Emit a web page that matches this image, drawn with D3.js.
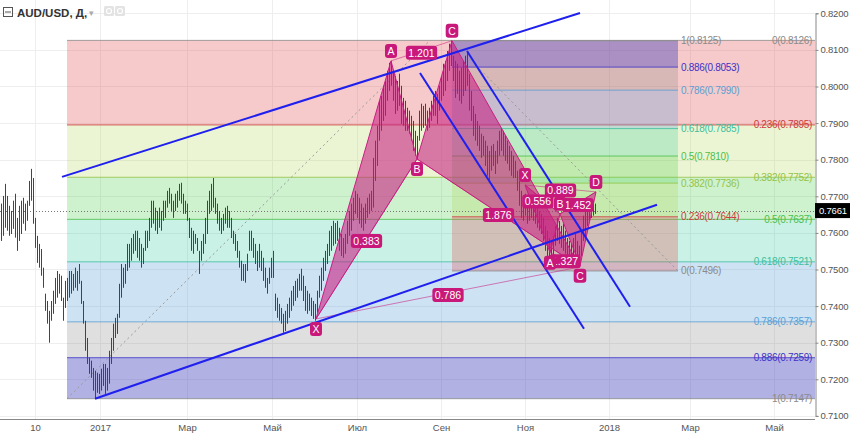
<!DOCTYPE html>
<html><head><meta charset="utf-8">
<script src="https://cdn.jsdelivr.net/npm/d3@7"></script>
<style>body{margin:0;background:#fff}svg{display:block;font-family:"Liberation Sans",Arial,sans-serif}</style>
</head><body><svg id="c" width="850" height="433"></svg>
<script>
// ---- DATA ----
const highs=[0.7680,0.7701,0.7734,0.7701,0.7674,0.7660,0.7688,0.7707,0.7641,0.7674,0.7688,0.7696,0.7680,0.7688,0.7742,0.7775,0.7750,0.7641,0.7592,0.7570,0.7556,0.7505,0.7434,0.7414,0.7387,0.7414,0.7442,0.7477,0.7496,0.7488,0.7483,0.7423,0.7469,0.7477,0.7496,0.7496,0.7488,0.7505,0.7496,0.7515,0.7469,0.7414,0.7360,0.7313,0.7259,0.7251,0.7231,0.7223,0.7218,0.7215,0.7229,0.7242,0.7242,0.7231,0.7278,0.7313,0.7352,0.7368,0.7379,0.7461,0.7515,0.7505,0.7515,0.7570,0.7570,0.7586,0.7597,0.7606,0.7606,0.7586,0.7570,0.7559,0.7606,0.7606,0.7641,0.7688,0.7688,0.7669,0.7660,0.7669,0.7660,0.7688,0.7688,0.7715,0.7723,0.7707,0.7688,0.7707,0.7715,0.7734,0.7737,0.7707,0.7688,0.7680,0.7641,0.7614,0.7606,0.7597,0.7586,0.7551,0.7578,0.7597,0.7641,0.7688,0.7715,0.7734,0.7750,0.7696,0.7680,0.7660,0.7641,0.7652,0.7669,0.7674,0.7660,0.7641,0.7606,0.7597,0.7578,0.7551,0.7524,0.7515,0.7515,0.7543,0.7606,0.7606,0.7586,0.7570,0.7551,0.7570,0.7551,0.7532,0.7505,0.7477,0.7505,0.7532,0.7551,0.7434,0.7423,0.7406,0.7395,0.7379,0.7387,0.7406,0.7423,0.7442,0.7455,0.7469,0.7475,0.7488,0.7502,0.7483,0.7455,0.7442,0.7434,0.7423,0.7414,0.7406,0.7442,0.7483,0.7505,0.7532,0.7551,0.7570,0.7606,0.7619,0.7633,0.7627,0.7633,0.7614,0.7597,0.7586,0.7597,0.7633,0.7660,0.7680,0.7696,0.7715,0.7707,0.7696,0.7680,0.7669,0.7680,0.7696,0.7707,0.7715,0.7805,0.7852,0.7893,0.7961,0.7974,0.8002,0.8015,0.8043,0.8065,0.8070,0.8043,0.8029,0.8015,0.8035,0.8002,0.7969,0.7961,0.7942,0.7934,0.7920,0.7906,0.7879,0.7865,0.7934,0.7953,0.7947,0.7953,0.7934,0.7942,0.7961,0.7974,0.7988,0.7980,0.8002,0.8029,0.8062,0.8070,0.8097,0.8117,0.8125,0.8084,0.8070,0.8062,0.8043,0.8051,0.8070,0.8084,0.8097,0.8035,0.7988,0.7947,0.7925,0.7906,0.7893,0.7871,0.7865,0.7852,0.7838,0.7824,0.7838,0.7843,0.7824,0.7852,0.7879,0.7887,0.7879,0.7865,0.7852,0.7838,0.7824,0.7811,0.7797,0.7770,0.7742,0.7715,0.7701,0.7707,0.7688,0.7696,0.7688,0.7680,0.7674,0.7669,0.7660,0.7652,0.7641,0.7619,0.7606,0.7586,0.7578,0.7592,0.7619,0.7641,0.7633,0.7619,0.7625,0.7606,0.7586,0.7578,0.7570,0.7586,0.7597,0.7578,0.7565,0.7606,0.7647,0.7660,0.7674,0.7680,0.7688,0.7688,0.7680];
const lows=[0.7578,0.7592,0.7614,0.7606,0.7592,0.7597,0.7611,0.7587,0.7551,0.7578,0.7597,0.7625,0.7606,0.7633,0.7674,0.7688,0.7625,0.7559,0.7518,0.7505,0.7483,0.7450,0.7387,0.7352,0.7300,0.7360,0.7379,0.7406,0.7423,0.7434,0.7414,0.7360,0.7395,0.7414,0.7423,0.7434,0.7442,0.7450,0.7442,0.7461,0.7406,0.7352,0.7278,0.7242,0.7215,0.7204,0.7169,0.7147,0.7163,0.7160,0.7169,0.7182,0.7160,0.7169,0.7188,0.7242,0.7278,0.7313,0.7324,0.7368,0.7423,0.7450,0.7461,0.7496,0.7505,0.7524,0.7543,0.7551,0.7532,0.7524,0.7505,0.7515,0.7551,0.7559,0.7578,0.7614,0.7625,0.7606,0.7597,0.7614,0.7606,0.7633,0.7641,0.7669,0.7680,0.7660,0.7641,0.7660,0.7669,0.7688,0.7680,0.7652,0.7652,0.7633,0.7586,0.7551,0.7543,0.7570,0.7551,0.7488,0.7524,0.7543,0.7570,0.7597,0.7652,0.7660,0.7669,0.7652,0.7625,0.7606,0.7597,0.7606,0.7625,0.7614,0.7614,0.7586,0.7570,0.7551,0.7532,0.7505,0.7469,0.7469,0.7464,0.7496,0.7551,0.7551,0.7532,0.7515,0.7496,0.7505,0.7496,0.7469,0.7450,0.7434,0.7461,0.7477,0.7477,0.7387,0.7368,0.7360,0.7352,0.7327,0.7332,0.7352,0.7368,0.7387,0.7401,0.7414,0.7423,0.7442,0.7442,0.7414,0.7387,0.7379,0.7387,0.7373,0.7365,0.7360,0.7382,0.7423,0.7442,0.7469,0.7496,0.7515,0.7537,0.7551,0.7565,0.7570,0.7578,0.7551,0.7537,0.7532,0.7543,0.7570,0.7592,0.7606,0.7633,0.7652,0.7641,0.7625,0.7614,0.7606,0.7625,0.7641,0.7652,0.7660,0.7669,0.7742,0.7783,0.7852,0.7879,0.7906,0.7920,0.7961,0.7988,0.8002,0.7961,0.7925,0.7934,0.7947,0.7898,0.7893,0.7879,0.7879,0.7871,0.7852,0.7824,0.7811,0.7802,0.7852,0.7879,0.7887,0.7893,0.7879,0.7887,0.7906,0.7920,0.7920,0.7898,0.7934,0.7961,0.7974,0.7988,0.8015,0.8043,0.8056,0.8015,0.7969,0.7980,0.7961,0.7953,0.7974,0.7988,0.8002,0.7934,0.7906,0.7865,0.7852,0.7838,0.7824,0.7805,0.7811,0.7783,0.7756,0.7742,0.7770,0.7783,0.7761,0.7789,0.7811,0.7824,0.7811,0.7797,0.7789,0.7770,0.7756,0.7750,0.7750,0.7715,0.7674,0.7641,0.7633,0.7647,0.7625,0.7633,0.7641,0.7633,0.7625,0.7614,0.7606,0.7597,0.7578,0.7551,0.7537,0.7524,0.7515,0.7532,0.7565,0.7578,0.7570,0.7559,0.7551,0.7543,0.7532,0.7524,0.7515,0.7532,0.7537,0.7518,0.7510,0.7537,0.7578,0.7592,0.7619,0.7633,0.7641,0.7647,0.7652];
const lastPrice=0.7661;
const priceTicks=[0.71,0.72,0.73,0.74,0.75,0.76,0.77,0.78,0.79,0.80,0.81,0.82];
const timeTickLabels=["10","2017","Мар","Май","Июл","Сен","Ноя","2018","Мар","Май"];
const timeTickBars=[17,49.5,93,135.5,178,220,262,304,344.5,386.5];
// Fibonacci retracement 1 (extends right)
const fib1Ratios=["0","0.236","0.382","0.5","0.618","0.786","0.886","1"];
const fib1Prices=[0.8126,0.7895,0.7752,0.7637,0.7521,0.7357,0.7259,0.7147];
const fib1Bars=[33,214.5];
// Fibonacci retracement 2
const fib2Ratios=["0","0.236","0.382","0.5","0.618","0.786","0.886","1"];
const fib2Prices=[0.7496,0.7644,0.7736,0.7810,0.7885,0.7990,0.8053,0.8125];
const fib2Bars=[225.5,338.5];
const levelColors=["#8a8a8a","#cc3b3b","#93c447","#4cbf4c","#3dbf9f","#5a9fd4","#3c32c8","#8a8a8a"];
const bandColors=["rgba(225,80,80,0.30)","rgba(175,215,70,0.24)","rgba(80,205,80,0.28)","rgba(60,205,160,0.28)","rgba(90,160,215,0.30)","rgba(128,128,128,0.25)","rgba(60,60,185,0.40)"];
// Trend lines [bar1, price1, bar2, price2]
const trendLines=[[30.5,0.7753,289.5,0.8201],[47,0.7147,328,0.7677],[209.5,0.8037,291.5,0.7338],[233,0.8097,314.5,0.7398]];
// XABCD patterns
const bigNames=["X","A","B","C",""];
const bigBars=[157.5,195,208,225.5,289.5];
const bigPrices=[0.7365,0.8070,0.7802,0.8125,0.7507];
const bigRatios=["0.383","1.201","1.876","0.786"];
const smallNames=["X","A","B","C","D"];
const smallBars=[262,274.5,279.5,289.5,297.5];
const smallPrices=[0.7731,0.7546,0.7652,0.7510,0.7712];
const smallRatios=["0.556","1.327","1.452","0.889"];

// ---- CHART ----
const W=850,H=433,plotR=815,plotB=419;
const svg=d3.select("#c");
const x=d3.scaleLinear().domain([-0.5,407]).range([0,plotR]);
const y=d3.scaleLinear().domain([0.71,0.82]).range([415.9,13.3]);

const plot=svg.append("g");
svg.append("defs").append("clipPath").attr("id","clip").append("rect").attr("x",0).attr("y",0).attr("width",plotR).attr("height",plotB);
plot.attr("clip-path","url(#clip)");

// grid
plot.selectAll(".hg").data(priceTicks).join("line").attr("x1",0).attr("x2",plotR)
 .attr("y1",d=>Math.round(y(d))+0.5).attr("y2",d=>Math.round(y(d))+0.5).attr("stroke","#eeeeee");
plot.selectAll(".vg").data(timeTickBars).join("line").attr("y1",0).attr("y2",plotB)
 .attr("x1",d=>Math.round(x(d))+0.5).attr("x2",d=>Math.round(x(d))+0.5).attr("stroke","#eeeeee");

// fib bands
function drawFib(prices,x1,x2){
  for(let k=0;k<prices.length-1;k++){
    const a=y(prices[k]),b=y(prices[k+1]);
    plot.append("rect").attr("x",x1).attr("width",x2-x1).attr("y",Math.min(a,b)).attr("height",Math.abs(b-a)).attr("fill",bandColors[k]);
  }
  prices.forEach((p,k)=>{
    plot.append("line").attr("x1",x1).attr("x2",x2).attr("y1",y(p)).attr("y2",y(p)).attr("stroke",levelColors[k]).attr("stroke-width",1).attr("opacity",0.8);
  });
}
const f1x1=x(fib1Bars[0]), f2x1=x(fib2Bars[0]), f2x2=x(fib2Bars[1]);
drawFib(fib1Prices,f1x1,plotR);
drawFib(fib2Prices,f2x1,f2x2);
plot.append("line").attr("x1",x(fib1Bars[0])).attr("y1",y(fib1Prices[7])).attr("x2",x(fib1Bars[1])).attr("y2",y(fib1Prices[0]))
 .attr("stroke","#999").attr("stroke-dasharray","2,3");
plot.append("line").attr("x1",x(fib2Bars[0])).attr("y1",y(fib2Prices[7])).attr("x2",x(fib2Bars[1])).attr("y2",y(fib2Prices[0]))
 .attr("stroke","#999").attr("stroke-dasharray","2,3");

// current price dotted line
plot.append("line").attr("x1",0).attr("x2",plotR).attr("y1",Math.round(y(lastPrice))+0.5).attr("y2",Math.round(y(lastPrice))+0.5)
 .attr("stroke","#777").attr("stroke-dasharray","1,2");

// bars
plot.append("g").selectAll("line").data(highs).join("line")
 .attr("x1",(d,i)=>Math.round(x(i))+0.5).attr("x2",(d,i)=>Math.round(x(i))+0.5).attr("y1",d=>y(d)).attr("y2",(d,i)=>y(lows[i]))
 .attr("stroke","#454545").attr("stroke-width",1);

// patterns
const pc="rgb(200,30,130)";
function drawPattern(bars,prices){
  const P=bars.map((b,i)=>[x(b),y(prices[i])]);
  [[0,1,2],[2,3,4]].forEach(t=>{
    plot.append("path").attr("d","M"+t.map(k=>P[k].join(",")).join("L")+"Z")
     .attr("fill","rgba(200,30,130,0.58)").attr("stroke",pc).attr("stroke-width",1);
  });
  [[0,2],[1,3],[2,4],[0,4]].forEach(([a,b])=>{
    plot.append("line").attr("x1",P[a][0]).attr("y1",P[a][1]).attr("x2",P[b][0]).attr("y2",P[b][1])
     .attr("stroke","rgba(200,30,130,0.55)").attr("stroke-width",1);
  });
  return P;
}
const bigP=drawPattern(bigBars,bigPrices);
const smallP=drawPattern(smallBars,smallPrices);

// trend lines
trendLines.forEach(t=>{
  plot.append("line").attr("x1",x(t[0])).attr("y1",y(t[1])).attr("x2",x(t[2])).attr("y2",y(t[3]))
   .attr("stroke","#1f1fee").attr("stroke-width",2);
});

// pattern labels
const lab=svg.append("g");
function tag(cx,cy,txt,anchor){
  const g=lab.append("g");
  const t=g.append("text").attr("y",cy).attr("text-anchor","middle").attr("dominant-baseline","central")
   .attr("fill","#fff").attr("font-size",10.5).text(txt);
  const w=t.node().getComputedTextLength()+5;
  const left=anchor==="end"?cx-w:cx-w/2;
  t.attr("x",left+w/2);
  g.insert("rect","text").attr("x",left).attr("y",cy-7).attr("width",w).attr("height",14).attr("rx",3).attr("fill","#c8187a");
}
function ratioTags(P,ratios,small){
  [[0,2],[1,3],[2,4],[0,4]].forEach(([a,b],k)=>{
    const cx=(P[a][0]+P[b][0])/2, cy=(P[a][1]+P[b][1])/2+2;
    // the X–B ratio of the small pattern ends just left of the B tag
    if(small&&k===0) tag(P[2][0]-6.5,cy,ratios[k],"end"); else tag(cx,cy,ratios[k]);
  });
}
ratioTags(bigP,bigRatios,false);
ratioTags(smallP,smallRatios,true);
function pointTags(P,names){
  P.forEach((p,k)=>{ if(!names[k])return; const up=(k%2===1)===(P[1][1]<P[0][1]);
    tag(p[0],p[1]+(up?-10:10),names[k]); });
}
pointTags(bigP,bigNames);
pointTags(smallP,smallNames);

// fib labels
fib1Prices.forEach((p,k)=>{
  svg.append("text").attr("x",812).attr("y",y(p)).attr("text-anchor","end").attr("dominant-baseline","central")
   .attr("font-size",10).attr("letter-spacing",-0.3).attr("fill",levelColors[k]).text(fib1Ratios[k]+"("+p.toFixed(4)+")");
});
fib2Prices.forEach((p,k)=>{
  svg.append("text").attr("x",f2x2+3).attr("y",y(p)).attr("text-anchor","start").attr("dominant-baseline","central")
   .attr("font-size",10).attr("letter-spacing",-0.3).attr("fill",levelColors[k]).text(fib2Ratios[k]+"("+p.toFixed(4)+")");
});

// axes
svg.append("rect").attr("x",plotR).attr("y",0).attr("width",W-plotR).attr("height",H).attr("fill","#fff");
svg.append("rect").attr("x",0).attr("y",plotB).attr("width",W).attr("height",H-plotB).attr("fill","#fff");
const ay=d3.axisRight(y).tickValues(priceTicks).tickSize(3).tickPadding(2).tickFormat(d3.format(".4f"));
const gy=svg.append("g").attr("transform",`translate(${plotR+0.5},0)`).call(ay);
gy.select(".domain").attr("stroke","#888");
gy.selectAll(".tick line").attr("stroke","#888");
gy.selectAll("text").attr("font-size",9.5).attr("letter-spacing",-0.2).attr("fill","#555").attr("font-family","Liberation Sans, Arial");
const ax=d3.axisBottom(x).tickValues(timeTickBars).tickSize(0).tickFormat((d,i)=>timeTickLabels[i]);
const gx=svg.append("g").attr("transform",`translate(0,${plotB+0.5})`).call(ax);
gx.select(".domain").attr("stroke","#888").attr("d",`M0,0H${plotR}`);
gx.selectAll("text").attr("font-size",9.5).attr("fill","#555").attr("dy","0.9em").attr("font-family","Liberation Sans, Arial");

// last price tag
svg.append("rect").attr("x",plotR).attr("y",y(lastPrice)-7.5).attr("width",W-plotR).attr("height",15).attr("fill","#000");
svg.append("text").attr("x",plotR+4).attr("y",y(lastPrice)).attr("dominant-baseline","central").attr("fill","#fff").attr("font-size",9.5).attr("letter-spacing",-0.2).text(lastPrice.toFixed(4));

// title
svg.append("rect").attr("x",3.5).attr("y",7.5).attr("width",9).attr("height",9).attr("fill","none").attr("stroke","#555");
svg.append("line").attr("x1",5).attr("x2",11).attr("y1",12).attr("y2",12).attr("stroke","#555");
svg.append("text").attr("x",17).attr("y",17).attr("font-size",11.5).attr("font-weight","bold").attr("fill","#333").text("AUD/USD, Д,");
svg.append("text").attr("x",89).attr("y",16).attr("font-size",9).attr("fill","#aaa").text("▾");
[104,115].forEach(px=>{
  svg.append("rect").attr("x",px).attr("y",6).attr("width",10).attr("height",10).attr("rx",1.5).attr("fill","#e3e3e3");
  svg.append("circle").attr("cx",px+5).attr("cy",11).attr("r",2.5).attr("fill","none").attr("stroke","#fff").attr("stroke-width",1.2);
});
</script></body></html>
